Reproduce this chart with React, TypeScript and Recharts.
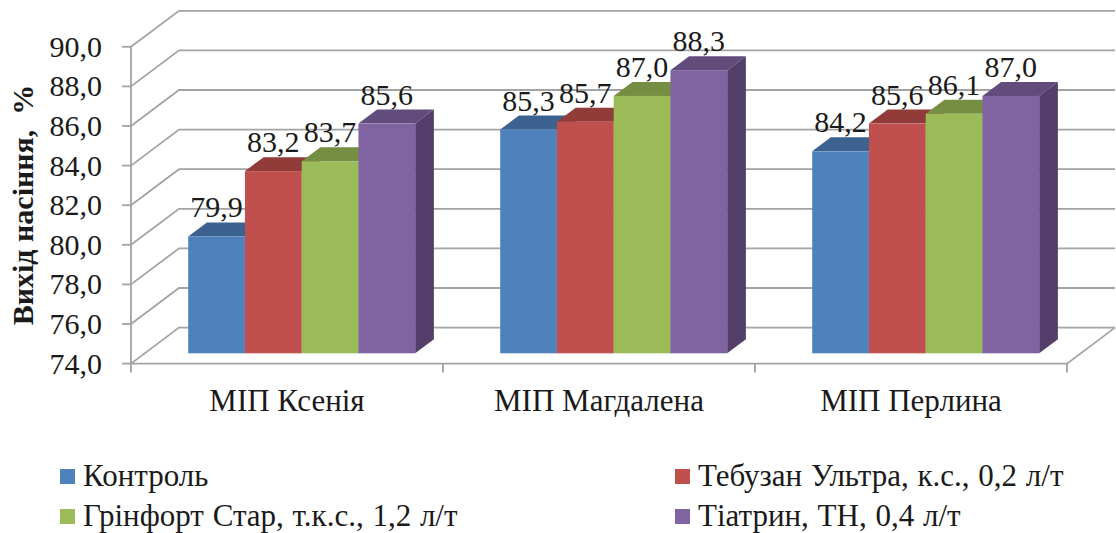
import { BarChart, Bar, XAxis, YAxis, CartesianGrid, Legend, LabelList } from 'recharts'

const categories = ['МІП Ксенія', 'МІП Магдалена', 'МІП Перлина']
const seriesNames = [
  'Контроль',
  'Тебузан Ультра, к.с., 0,2 л/т',
  'Грінфорт Стар, т.к.с., 1,2 л/т',
  'Тіатрин, ТН, 0,4 л/т',
]
const control = [79.9, 85.3, 84.2]
const tebuzan = [83.2, 85.7, 85.6]
const grinfort = [83.7, 87.0, 86.1]
const tiatrin = [85.6, 88.3, 87.0]
const yTicks = [74, 76, 78, 80, 82, 84, 86, 88, 90]

const seriesValues = [control, tebuzan, grinfort, tiatrin]
const keys = ['control', 'tebuzan', 'grinfort', 'tiatrin']
const rows = categories.map((name, i) => ({
  name,
  control: control[i],
  tebuzan: tebuzan[i],
  grinfort: grinfort[i],
  tiatrin: tiatrin[i],
}))

const faceColors = ['#4f81bd', '#c0504d', '#9bbb59', '#8064a2']
const topColors = ['#3c6291', '#923c3a', '#758e43', '#614c7c']
const sideColors = ['#35567f', '#803533', '#667c3b', '#543f6b']

const FONT = '"Liberation Serif", "Times New Roman", serif'
const GRID = '#a3a3a3'
const TEXT = '#1a1a1a'

// the bars stand half way into the floor, the axes sit on its front edge
const FRONT_DX = 14.2
const FRONT_DY = 10.3
const WALL_DX = 33.8
const WALL_DY = 25.7
const BAR_DX = 18.7
const BAR_DY = 14
const PLOT_LEFT = 145.2
const PLOT_W = 936
const PLOT_H = 316.8

const fmt = (v: number) => v.toFixed(1).replace('.', ',')

function Bar3D(props: any) {
  const { x, y, width, height, fill, top, side } = props
  const r = x + width
  const b = y + height
  return (
    <g>
      <polygon points={`${x},${y} ${x + BAR_DX},${y - BAR_DY} ${r + BAR_DX},${y - BAR_DY} ${r},${y}`} fill={top} />
      <polygon points={`${r},${y} ${r + BAR_DX},${y - BAR_DY} ${r + BAR_DX},${b - BAR_DY} ${r},${b}`} fill={side} />
      <rect x={x} y={y} width={width} height={height} fill={fill} />
    </g>
  )
}

function gridLine(props: any) {
  const { x1, x2, y1, index } = props
  const fx = x1 - FRONT_DX
  const fy = y1 + FRONT_DY
  return (
    <polyline
      key={index}
      points={`${fx},${fy} ${x1 + WALL_DX},${y1 - WALL_DY} ${x2 + WALL_DX},${y1 - WALL_DY}`}
      fill="none"
      stroke={GRID}
      strokeWidth={1.8}
    />
  )
}

function YTick(props: any) {
  const { y, payload } = props
  const ax = PLOT_LEFT - FRONT_DX
  const fy = y + FRONT_DY
  const isFloor = payload.value === yTicks[0]
  return (
    <g>
      <line x1={ax - 9} x2={ax} y1={fy} y2={fy} stroke={GRID} strokeWidth={1.8} />
      {isFloor && (
        <polyline
          points={`${ax},${fy - PLOT_H} ${ax},${fy} ${ax + PLOT_W},${fy} ${ax + PLOT_W + FRONT_DX + WALL_DX},${y - WALL_DY}`}
          fill="none"
          stroke={GRID}
          strokeWidth={1.8}
        />
      )}
      <text x={ax - 29} y={fy + 10} textAnchor="end" fontFamily={FONT} fontSize={30} fill={TEXT}>
        {fmt(payload.value)}
      </text>
    </g>
  )
}

function XTick(props: any) {
  const { x, y, payload, index } = props
  const band = PLOT_W / categories.length
  const cx = x - FRONT_DX
  const axisY = y + FRONT_DY
  return (
    <g>
      <line x1={cx - band / 2} x2={cx - band / 2} y1={axisY} y2={axisY + 9} stroke={GRID} strokeWidth={1.8} />
      {index === categories.length - 1 && (
        <line x1={cx + band / 2} x2={cx + band / 2} y1={axisY} y2={axisY + 9} stroke={GRID} strokeWidth={1.8} />
      )}
      <text x={cx} y={y + 57.4} textAnchor="middle" fontFamily={FONT} fontSize={31} fill={TEXT}>
        {payload.value}
      </text>
    </g>
  )
}

function renderTitle() {
  return (
    <text
      transform="translate(33 205) rotate(-90)"
      textAnchor="middle"
      fontFamily={FONT}
      fontSize={30}
      fontWeight="bold"
      fill={TEXT}
      style={{ whiteSpace: 'pre' }}
    >
      {'Вихід насіння,  %'}
    </text>
  )
}

function renderValue(props: any) {
  const { x, y, width, value } = props
  return (
    <text x={x + width / 2} y={y - 19} textAnchor="middle" fontFamily={FONT} fontSize={30} fill={TEXT}>
      {fmt(value)}
    </text>
  )
}

function renderLegend(props: any) {
  const items = props.payload || []
  return (
    <div style={{ position: 'relative', width: 1116, height: 533, pointerEvents: 'none' }}>
      {items.map((item: any, i: number) => (
        <div
          key={item.value}
          style={{
            position: 'absolute',
            left: 60 + (i % 2) * 615,
            top: 460 + Math.floor(i / 2) * 40,
            display: 'flex',
            alignItems: 'center',
            height: 32,
            fontFamily: FONT,
            fontSize: 31,
            wordSpacing: 1,
            color: TEXT,
            whiteSpace: 'pre',
          }}
        >
          <span style={{ width: 15, height: 15, marginRight: 8, background: item.color }} />
          {item.value}
        </div>
      ))}
    </div>
  )
}

export default function App() {
  return (
    <div style={{ position: 'absolute', left: 0, top: 0, width: 1116, height: 533 }}>
      <BarChart
        width={1116}
        height={533}
        data={rows}
        margin={{ top: 36.5, right: 34.8, bottom: 139.7, left: 0 }}
        barSize={56.75}
        barGap={0}
      >
        <CartesianGrid horizontal={gridLine} vertical={false} />
        <XAxis
          dataKey="name"
          height={40}
          axisLine={false}
          tickLine={false}
          tickSize={0}
          tickMargin={0}
          interval={0}
          tick={XTick}
        />
        <YAxis
          width={145.2}
          domain={[yTicks[0], yTicks[yTicks.length - 1]]}
          ticks={yTicks}
          interval={0}
          axisLine={false}
          tickLine={false}
          tick={YTick}
          label={renderTitle}
        />
        <Legend
          layout="horizontal"
          verticalAlign="middle"
          align="center"
          itemSorter={null}
          wrapperStyle={{ left: 0, top: 0, width: 1116, height: 533 }}
          content={renderLegend}
        />
        {seriesValues.map((_, i) => (
          <Bar
            key={keys[i]}
            dataKey={keys[i]}
            name={seriesNames[i]}
            fill={faceColors[i]}
            isAnimationActive={false}
            shape={(p: any) => <Bar3D {...p} top={topColors[i]} side={sideColors[i]} />}
          >
            <LabelList dataKey={keys[i]} content={renderValue} />
          </Bar>
        ))}
      </BarChart>
    </div>
  )
}
